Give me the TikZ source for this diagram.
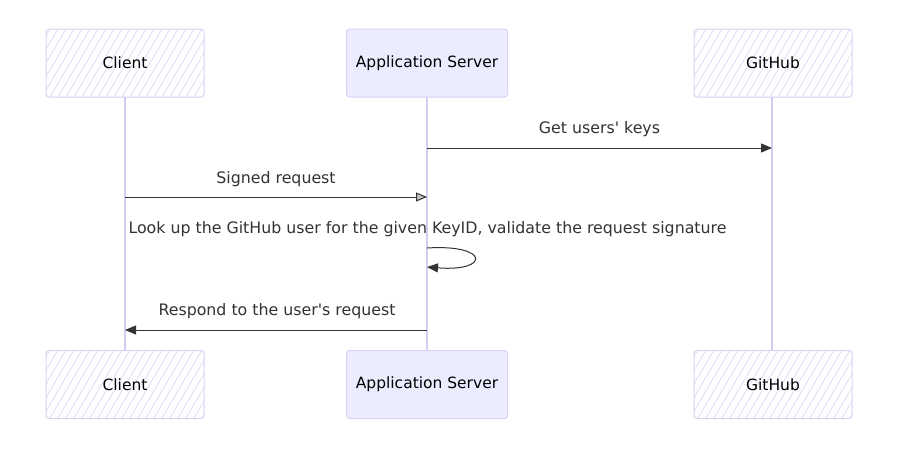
\documentclass[tikz,border=0pt]{standalone}
\usepackage{fontspec}
\setmainfont{DejaVu Sans}
\newfontfamily\uifont{DejaVu Sans}
\usetikzlibrary{arrows.meta}
\definecolor{lav}{HTML}{D9D2F5}
\definecolor{lavfill}{HTML}{ECECFF}
\definecolor{hatch}{HTML}{E2DDF7}
\definecolor{life}{HTML}{D4CCF2}
\definecolor{ink}{HTML}{333333}
\tikzset{
  actor/.style={draw=lav, line width=1pt, rounded corners=3pt, minimum width=158pt, minimum height=68pt, inner sep=0pt, font=\uifont\fontsize{15.5}{18}\selectfont, text=black},
  srvfill/.style={fill=lavfill},
  lifeline/.style={draw=life, line width=1.6pt},
  msg/.style={draw=ink, line width=1pt},
  msgtext/.style={font=\uifont\fontsize{15.8}{18}\selectfont, text=ink, inner sep=0pt},
  hatchline/.style={draw=hatch, line width=0.8pt},
  tip/.style={-{Triangle[length=11pt,width=9pt]}},
  opentip/.style={-{Triangle[length=11pt,width=9pt,fill=gray!45]}}
}
\newcommand{\hatchbox}[4]{%
  \begin{scope}
    \clip[rounded corners=3pt] (#1,#2) rectangle (#3,#4);
    \foreach \i in {-60,-52,...,170} {\draw[hatchline] (#1+\i,#4) -- ++(40,-68);}
  \end{scope}}
\begin{document}
\begin{tikzpicture}[x=1pt,y=-1pt]
\useasboundingbox[fill=white] (0,0) rectangle (904,453);
% hatching
\hatchbox{46}{29}{204}{97}
\hatchbox{694}{29}{852}{97}
\hatchbox{46}{351}{204}{418}
\hatchbox{694}{351}{852}{418}
% lifelines
\coordinate (c1) at (125,97); \coordinate (c2) at (125,351);
\coordinate (s1) at (427,97); \coordinate (s2) at (427,351);
\coordinate (g1) at (772,97); \coordinate (g2) at (772,351);
\draw[lifeline] (c1) -- (c2);
\draw[lifeline] (s1) -- (s2);
\draw[lifeline] (g1) -- (g2);
% actors
\node[actor] (clientTop) at (125,63) {Client};
\node[actor,srvfill, minimum width=161pt] (serverTop) at (427,63) {Application Server};
\node[actor] (githubTop) at (773,63) {GitHub};
\node[actor] (clientBot) at (125,384.5) {Client};
\node[actor,srvfill, minimum width=161pt] (serverBot) at (427,384.5) {Application Server};
\node[actor] (githubBot) at (773,384.5) {GitHub};
% message anchors
\coordinate (m1s) at (427,148); \coordinate (m1g) at (772,148);
\coordinate (m2c) at (125,197); \coordinate (m2s) at (427,197);
\coordinate (m3a) at (427,248); \coordinate (m3b) at (427,267);
\coordinate (m4s) at (427,330); \coordinate (m4c) at (125,330);
% messages
\node[msgtext] (t1) at (599.5,129) {Get users' keys};
\draw[msg,tip] (m1s) -- (m1g);
\node[msgtext] (t2) at (276,179) {Signed request};
\draw[msg,opentip] (m2c) -- (m2s);
\node[msgtext] (t3) at (427.5,229) {Look up the GitHub user for the given KeyID, validate the request signature};
\draw[msg,tip] (m3a) .. controls (490,244) and (490,272) .. (m3b);
\node[msgtext] (t4) at (277,311) {Respond to the user's request};
\draw[msg,tip] (m4s) -- (m4c);
\end{tikzpicture}
\end{document}
